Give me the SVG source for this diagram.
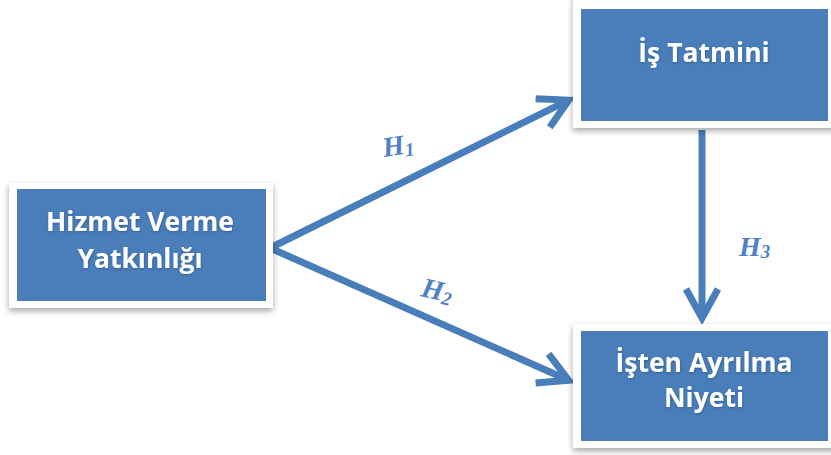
<svg xmlns="http://www.w3.org/2000/svg" width="831" height="455" viewBox="0 0 831 455">
<style>
.frame{fill:#ffffff;filter:url(#sh);}
.box{fill:#4a7ebb;}
.lbl{font-family:"Open Sans","Noto Sans","Liberation Sans",sans-serif;font-weight:bold;font-size:26.5px;fill:#ffffff;text-anchor:middle;filter:url(#tsh);}
.conn{stroke:#4a7ebb;stroke-width:7;fill:none;}
.h{font-family:"Liberation Serif","DejaVu Serif",serif;font-weight:bold;font-style:italic;font-size:28px;fill:#4f81c4;}
.sub{font-size:19px;}
</style>
<defs>
<filter id="sh" x="-10%" y="-10%" width="120%" height="130%">
<feDropShadow dx="0" dy="3" stdDeviation="3" flood-color="#000" flood-opacity="0.35"/>
</filter>
<filter id="tsh" x="-10%" y="-20%" width="120%" height="140%">
<feDropShadow dx="0.5" dy="1" stdDeviation="0.8" flood-color="#1c3a60" flood-opacity="0.5"/>
</filter>
<marker id="ah" markerUnits="userSpaceOnUse" viewBox="-40 -25 55 50" markerWidth="55" markerHeight="50" refX="0" refY="0" orient="auto" overflow="visible">
<path d="M-29,-16 L0,0 L-29,16" stroke="#4a7ebb" stroke-width="7" fill="none" stroke-linejoin="miter" stroke-miterlimit="10"/>
</marker>
</defs>
<g id="connectors">
<line class="conn" x1="270" y1="248" x2="568.7" y2="100.1" marker-end="url(#ah)"/>
<line class="conn" x1="270" y1="248" x2="568.6" y2="380.2" marker-end="url(#ah)"/>
<line class="conn" x1="702" y1="130" x2="702" y2="318" marker-end="url(#ah)"/>
<text class="h" transform="translate(384,157) rotate(-9)">H<tspan class="sub" dy="3">1</tspan></text>
<text class="h" transform="translate(420,296) rotate(13)">H<tspan class="sub" dy="3">2</tspan></text>
<text class="h" transform="translate(739,256)">H<tspan class="sub" dy="2">3</tspan></text>
</g>
<g id="node-hizmet">
<rect class="frame" x="9" y="183" width="264" height="125"/>
<rect class="box" x="17" y="189" width="249" height="112"/>
<text class="lbl" x="140" y="231">Hizmet Verme</text>
<text class="lbl" x="140" y="268">Yatkınlığı</text>
</g>
<g id="node-is-tatmini">
<rect class="frame" x="573" y="-5" width="265" height="133"/>
<rect class="box" x="581" y="9" width="247" height="112"/>
<text class="lbl" x="704" y="62">İş Tatmini</text>
</g>
<g id="node-isten">
<rect class="frame" x="573" y="324" width="265" height="124"/>
<rect class="box" x="581" y="331" width="247" height="110"/>
<text class="lbl" x="704" y="372">İşten Ayrılma</text>
<text class="lbl" x="704" y="407">Niyeti</text>
</g>
</svg>
